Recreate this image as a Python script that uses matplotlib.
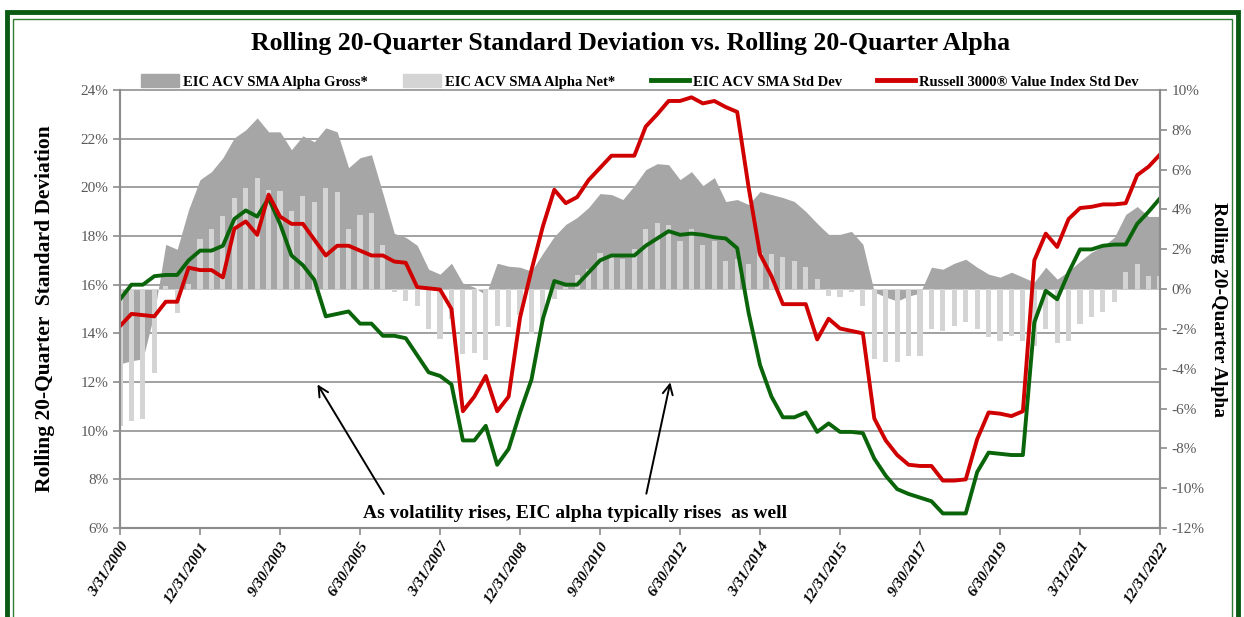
import matplotlib
matplotlib.use("Agg")
import matplotlib.pyplot as plt
import numpy as np
from matplotlib.patches import Patch, Rectangle
from matplotlib.lines import Line2D

plt.rcParams['font.family'] = ['Liberation Serif', 'DejaVu Serif']

# quarterly tick labels (every 7th quarter, 3/31/2000 .. 12/31/2022)
tick_labels = ['3/31/2000', '12/31/2001', '9/30/2003', '6/30/2005', '3/31/2007',
               '12/31/2008', '9/30/2010', '6/30/2012', '3/31/2014', '12/31/2015',
               '9/30/2017', '6/30/2019', '3/31/2021', '12/31/2022']

# rolling 20-quarter std dev (%), left axis
eic_std = [15.4, 16.0, 16.0, 16.35, 16.4, 16.4, 17.0, 17.4, 17.4, 17.6,
           18.7, 19.05, 18.8, 19.55, 18.5, 17.2, 16.8, 16.2, 14.7, 14.8,
           14.9, 14.4, 14.4, 13.9, 13.9, 13.8, 13.1, 12.4, 12.25, 11.9,
           9.6, 9.6, 10.2, 8.6, 9.25, 10.75, 12.1, 14.6, 16.15, 16.0,
           16.0, 16.5, 17.0, 17.2, 17.2, 17.2, 17.6, 17.9, 18.2, 18.05,
           18.1, 18.05, 17.95, 17.9, 17.5, 14.85, 12.7, 11.4, 10.55, 10.55,
           10.75, 9.95, 10.3, 9.95, 9.95, 9.9, 8.85, 8.15, 7.6, 7.4,
           7.25, 7.1, 6.6, 6.6, 6.6, 8.3, 9.1, 9.05, 9.0, 9.0,
           14.45, 15.75, 15.4, 16.5, 17.45, 17.45, 17.6, 17.65, 17.65, 18.5,
           19.0, 19.55]

r3000v_std = [14.3, 14.8, 14.75, 14.7, 15.3, 15.3, 16.7, 16.6, 16.6, 16.3,
              18.3, 18.6, 18.05, 19.7, 18.8, 18.5, 18.5, 17.85, 17.2, 17.6,
              17.6, 17.4, 17.2, 17.2, 16.95, 16.9, 15.9, 15.85, 15.8, 15.0,
              10.8, 11.4, 12.25, 10.8, 11.4, 14.65, 16.6, 18.4, 19.9, 19.35,
              19.6, 20.3, 20.8, 21.3, 21.3, 21.3, 22.5, 23.0, 23.55, 23.55,
              23.7, 23.45, 23.55, 23.3, 23.1, 20.0, 17.25, 16.35, 15.2, 15.2,
              15.2, 13.75, 14.6, 14.2, 14.1, 14.0, 10.5, 9.6, 9.0, 8.6,
              8.55, 8.55, 7.95, 7.95, 8.0, 9.65, 10.75, 10.7, 10.6, 10.8,
              17.0, 18.1, 17.55, 18.7, 19.15, 19.2, 19.3, 19.3, 19.35, 20.5,
              20.85, 21.35]

# rolling 20-quarter alpha (%), right axis
alpha_gross = [-3.75, -3.6, -3.5, -1.2, 2.25, 2.0, 4.0, 5.5, 5.9, 6.6,
               7.6, 8.0, 8.6, 7.9, 7.9, 7.0, 7.7, 7.4, 8.1, 7.9,
               6.1, 6.6, 6.75, 4.8, 2.8, 2.6, 2.2, 1.0, 0.75, 1.3,
               0.3, 0.1, -0.3, 1.3, 1.15, 1.1, 0.9, 1.8, 2.65, 3.25,
               3.6, 4.1, 4.8, 4.75, 4.5, 5.2, 6.0, 6.3, 6.25, 5.5,
               5.9, 5.2, 5.6, 4.4, 4.5, 4.25, 4.9, 4.75, 4.6, 4.4,
               3.9, 3.3, 2.75, 2.75, 2.9, 2.25, -0.15, -0.4, -0.6, -0.35,
               -0.2, 1.1, 1.0, 1.3, 1.5, 1.1, 0.75, 0.6, 0.85, 0.6,
               0.35, 1.1, 0.5, 0.9, 1.4, 1.85, 2.15, 2.6, 3.75, 4.15,
               3.65, 3.65]

alpha_net = [-6.9, -6.6, -6.5, -4.2, 0.15, -1.2, 0.25, 2.5, 3.0, 3.65,
             4.6, 5.1, 5.6, 5.0, 4.95, 3.9, 4.7, 4.4, 5.1, 4.9,
             3.0, 3.7, 3.8, 2.2, -0.15, -0.6, -0.85, -2.0, -2.5, -1.5,
             -3.25, -3.2, -3.55, -1.85, -1.9, -1.3, -2.25, -1.6, -0.5, 0.1,
             0.7, 1.0, 1.8, 1.65, 1.5, 2.0, 3.0, 3.3, 3.2, 2.4,
             3.0, 2.2, 2.4, 1.4, 1.5, 1.25, 1.8, 1.75, 1.6, 1.4,
             1.1, 0.5, -0.35, -0.4, -0.15, -0.85, -3.5, -3.65, -3.65, -3.35,
             -3.35, -2.0, -2.1, -1.85, -1.65, -2.0, -2.4, -2.6, -2.35, -2.6,
             -2.85, -2.0, -2.7, -2.6, -1.75, -1.4, -1.15, -0.65, 0.85, 1.25,
             0.65, 0.65]

x = np.arange(len(eic_std))
GREEN = '#0a640a'
RED = '#d00000'
DARK = '#a6a6a6'
LIGHT = '#d4d4d4'
GRID = '#9a9a9a'
TXT = '#595959'

fig = plt.figure(figsize=(12.44, 6.17), dpi=100)
axL = fig.add_axes([0.0965, 0.1442, 0.836, 0.7099])
axR = axL.twinx()
axR.set_zorder(1)
axL.set_zorder(2)
axL.patch.set_visible(False)

# gridlines (left-axis steps) drawn behind the alpha area
for k in range(10):
    axR.plot([0, 1], [k / 9, k / 9], transform=axR.transAxes, color=GRID,
             lw=1.3, zorder=0, clip_on=False)

axR.fill_between(x, 0, alpha_gross, color=DARK, lw=0, zorder=1)
axR.bar(x, alpha_net, width=0.45, color=LIGHT, zorder=2)
axR.set_ylim(-12, 10)
axR.set_yticks(np.arange(-12, 11, 2))
axR.set_yticklabels([f'{v}%' for v in range(-12, 11, 2)], color=TXT, fontsize=11)
axR.set_ylabel('Rolling 20-Quarter Alpha', rotation=-90, labelpad=16,
               fontsize=14, fontweight='bold')

axL.plot(x, eic_std, color=GREEN, lw=2.8)
axL.plot(x, r3000v_std, color=RED, lw=2.8)
axL.set_ylim(6, 24)
axL.set_yticks(np.arange(6, 25, 2))
axL.set_yticklabels([f'{v}%' for v in range(6, 25, 2)], color=TXT, fontsize=11)
axL.set_ylabel('Rolling 20-Quarter  Standard Deviation', fontsize=15.5,
               fontweight='bold', labelpad=18)
axL.set_xlim(0, len(x) - 1)
axL.set_xticks(np.arange(0, len(x), 7))
axL.set_xticklabels(tick_labels, rotation=57, ha='right', va='top',
                    rotation_mode='anchor', fontsize=11, fontweight='bold',
                    fontstyle='italic')

for ax in (axL, axR):
    for s in ax.spines.values():
        s.set_color('#8c8c8c')
        s.set_linewidth(1.5)
    ax.spines['top'].set_visible(False)
    ax.tick_params(color='#8c8c8c', length=5, width=1.2)

# annotation
axL.text(39.8, 6.6, 'As volatility rises, EIC alpha typically rises  as well',
         ha='center', va='center', fontsize=14, fontweight='bold')
axL.annotate('', xy=(17.15, 12.0), xytext=(23.2, 7.3),
             arrowprops=dict(arrowstyle='->', color='black', lw=1.4,
                             mutation_scale=18))
axL.annotate('', xy=(48.2, 12.1), xytext=(46.0, 7.3),
             arrowprops=dict(arrowstyle='->', color='black', lw=1.4,
                             mutation_scale=18))

handles = [Patch(color=DARK), Patch(color=LIGHT),
           Line2D([], [], color=GREEN, lw=3.5), Line2D([], [], color=RED, lw=3.5)]
labels = ['EIC ACV SMA Alpha Gross*', 'EIC ACV SMA Alpha Net*',
          'EIC ACV SMA Std Dev', 'Russell 3000® Value Index Std Dev']
axL.legend(handles, labels, loc='lower center', bbox_to_anchor=(0.5, 0.99),
           ncol=4, frameon=False, prop={'weight': 'bold', 'size': 10.5},
           handlelength=2.6, handleheight=1.0, columnspacing=2.4, handletextpad=0.3,
           borderaxespad=0)

fig.text(0.507, 0.93, 'Rolling 20-Quarter Standard Deviation vs. Rolling 20-Quarter Alpha',
         ha='center', va='center', fontsize=18.5, fontweight='bold')

# green double frame
fig.patches.append(Rectangle((7 / 1244, -0.1), 1231 / 1244, 1.1 - 12 / 617,
                             transform=fig.transFigure, fill=False,
                             edgecolor='#0b5a14', lw=3.5))
fig.patches.append(Rectangle((13 / 1244, -0.1), 1219 / 1244, 1.1 - 19 / 617,
                             transform=fig.transFigure, fill=False,
                             edgecolor='#2e7d32', lw=1.0))

fig.savefig('out.png', dpi=100)
